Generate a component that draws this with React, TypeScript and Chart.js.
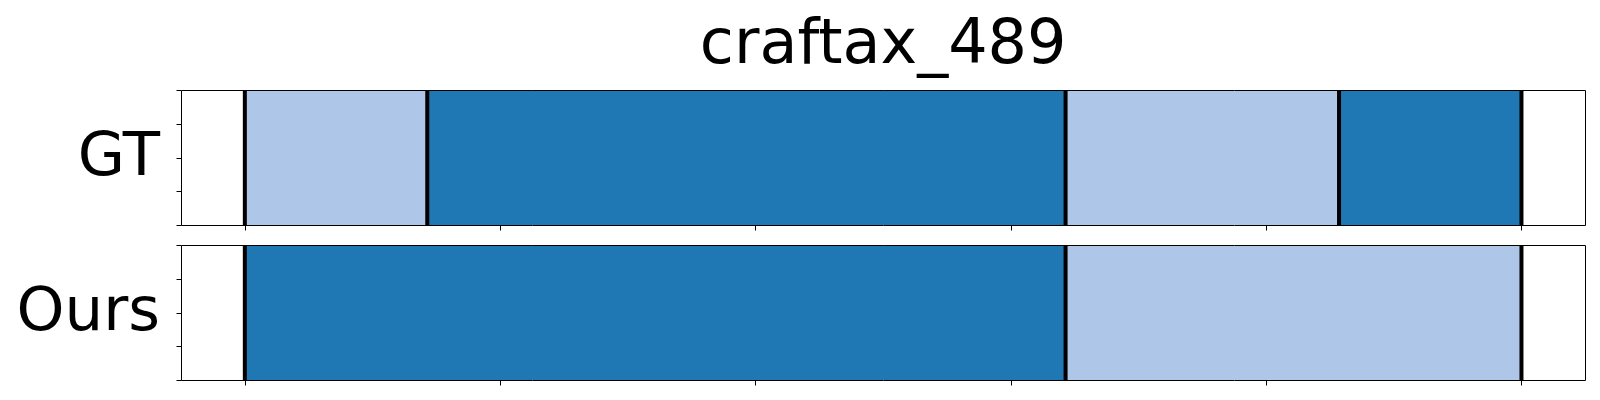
import React, { useEffect, useRef } from "react";
import { Chart, registerables } from "chart.js";

Chart.register(...registerables);

const TITLE = "craftax_489";
const ROW_LABELS = ["GT", "Ours"];
const GT_BOUNDS = [0, 0.1429, 0.6429, 0.8571, 1.0];
const GT_PHASES = ["light", "dark", "light", "dark"];
const OURS_BOUNDS = [0, 0.6429, 1.0];
const OURS_PHASES = ["dark", "light"];
const X_TICKS = [0, 0.2, 0.4, 0.6, 0.8, 1.0];
const Y_TICKS = [0, 0.25, 0.5, 0.75, 1.0];

const PHASE_COLORS: Record<string, string> = {
  light: "#aec7e8",
  dark: "#1f77b4",
};

const FONT = '"DejaVu Sans", sans-serif';
const TICK_LEN = 5;

type PanelProps = {
  label: string;
  bounds: number[];
  phases: string[];
  title?: string;
  top: number;
  height: number;
  padTop: number;
  padBottom: number;
};

function Panel({ label, bounds, phases, title, top, height, padTop, padBottom }: PanelProps) {
  const ref = useRef<HTMLCanvasElement | null>(null);

  useEffect(() => {
    if (!ref.current) return;
    const overlay = {
      id: "overlay",
      afterDatasetsDraw(chart: any) {
        const { ctx, chartArea, scales } = chart;
        const { left, right, top: t, bottom } = chartArea;
        ctx.save();
        ctx.strokeStyle = "#000";
        ctx.lineWidth = 4;
        bounds.forEach((b) => {
          const px = scales.x.getPixelForValue(b);
          ctx.beginPath();
          ctx.moveTo(px, t);
          ctx.lineTo(px, bottom);
          ctx.stroke();
        });
        const L = Math.round(left) + 0.5;
        const R = Math.round(right) + 0.5;
        const T = Math.round(t) + 0.5;
        const B = Math.round(bottom) + 0.5;
        ctx.lineWidth = 1;
        ctx.beginPath();
        ctx.moveTo(L, B);
        ctx.lineTo(L, T);
        ctx.lineTo(R, T);
        ctx.lineTo(R, B);
        ctx.lineTo(L, B);
        ctx.stroke();
        ctx.beginPath();
        X_TICKS.forEach((v) => {
          const px = Math.round(scales.x.getPixelForValue(v)) + 0.5;
          ctx.moveTo(px, B);
          ctx.lineTo(px, B + TICK_LEN);
        });
        const y0 = Y_TICKS[0];
        const y1 = Y_TICKS[Y_TICKS.length - 1];
        Y_TICKS.forEach((v) => {
          const py = Math.round(bottom - ((v - y0) / (y1 - y0)) * (bottom - t)) + 0.5;
          ctx.moveTo(L, py);
          ctx.lineTo(L - TICK_LEN, py);
        });
        ctx.stroke();
        ctx.restore();
      },
      afterDraw(chart: any) {
        const { ctx, chartArea } = chart;
        const { left, right, top: t, bottom } = chartArea;
        ctx.save();
        ctx.fillStyle = "#000";
        ctx.font = `61px ${FONT}`;
        ctx.textAlign = "right";
        ctx.textBaseline = "alphabetic";
        ctx.fillText(label, left - 21, (t + bottom) / 2 + 17);
        if (title) {
          ctx.font = `62px ${FONT}`;
          ctx.textAlign = "center";
          ctx.fillText(title, (left + right) / 2, t - 27.5);
        }
        ctx.restore();
      },
    };

    const axisGrid = {
      drawOnChartArea: false,
      drawTicks: true,
      tickLength: TICK_LEN,
      color: "rgba(0,0,0,0)",
      lineWidth: 1,
    };
    const axisBorder = { display: false };

    const chart = new Chart(ref.current, {
      type: "bar",
      data: {
        labels: [label],
        datasets: phases.map((p, i) => ({
          data: [[bounds[i], bounds[i + 1]]] as any,
          backgroundColor: PHASE_COLORS[p],
          borderWidth: 0,
          barPercentage: 1,
          categoryPercentage: 1,
          grouped: false,
          xAxisID: "x",
          yAxisID: "y",
        })),
      },
      options: {
        indexAxis: "y",
        responsive: false,
        animation: false,
        devicePixelRatio: 1,
        layout: { padding: { left: 176, right: 14.7, top: padTop, bottom: padBottom } },
        plugins: {
          legend: { display: false },
          tooltip: { enabled: false },
          title: { display: false },
        },
        scales: {
          x: {
            type: "linear",
            position: "bottom",
            min: -0.05,
            max: 1.05,
            ticks: { display: false },
            grid: { ...axisGrid },
            border: { ...axisBorder },
          },
          y: {
            type: "category",
            position: "left",
            ticks: { display: false },
            grid: { ...axisGrid },
            border: { ...axisBorder },
          },
        } as any,
      },
      plugins: [overlay],
    });
    return () => chart.destroy();
  }, []);

  return (
    <canvas
      ref={ref}
      width={1600}
      height={height}
      style={{ position: "absolute", left: 0, top, width: 1600, height }}
    />
  );
}

export default function App() {
  return (
    <div style={{ position: "absolute", left: 0, top: 0, width: 1600, height: 400, background: "#fff" }}>
      <Panel
        label={ROW_LABELS[0]}
        bounds={GT_BOUNDS}
        phases={GT_PHASES}
        title={TITLE}
        top={0}
        height={240}
        padTop={90}
        padBottom={10}
      />
      <Panel
        label={ROW_LABELS[1]}
        bounds={OURS_BOUNDS}
        phases={OURS_PHASES}
        top={240}
        height={160}
        padTop={5}
        padBottom={15}
      />
    </div>
  );
}
